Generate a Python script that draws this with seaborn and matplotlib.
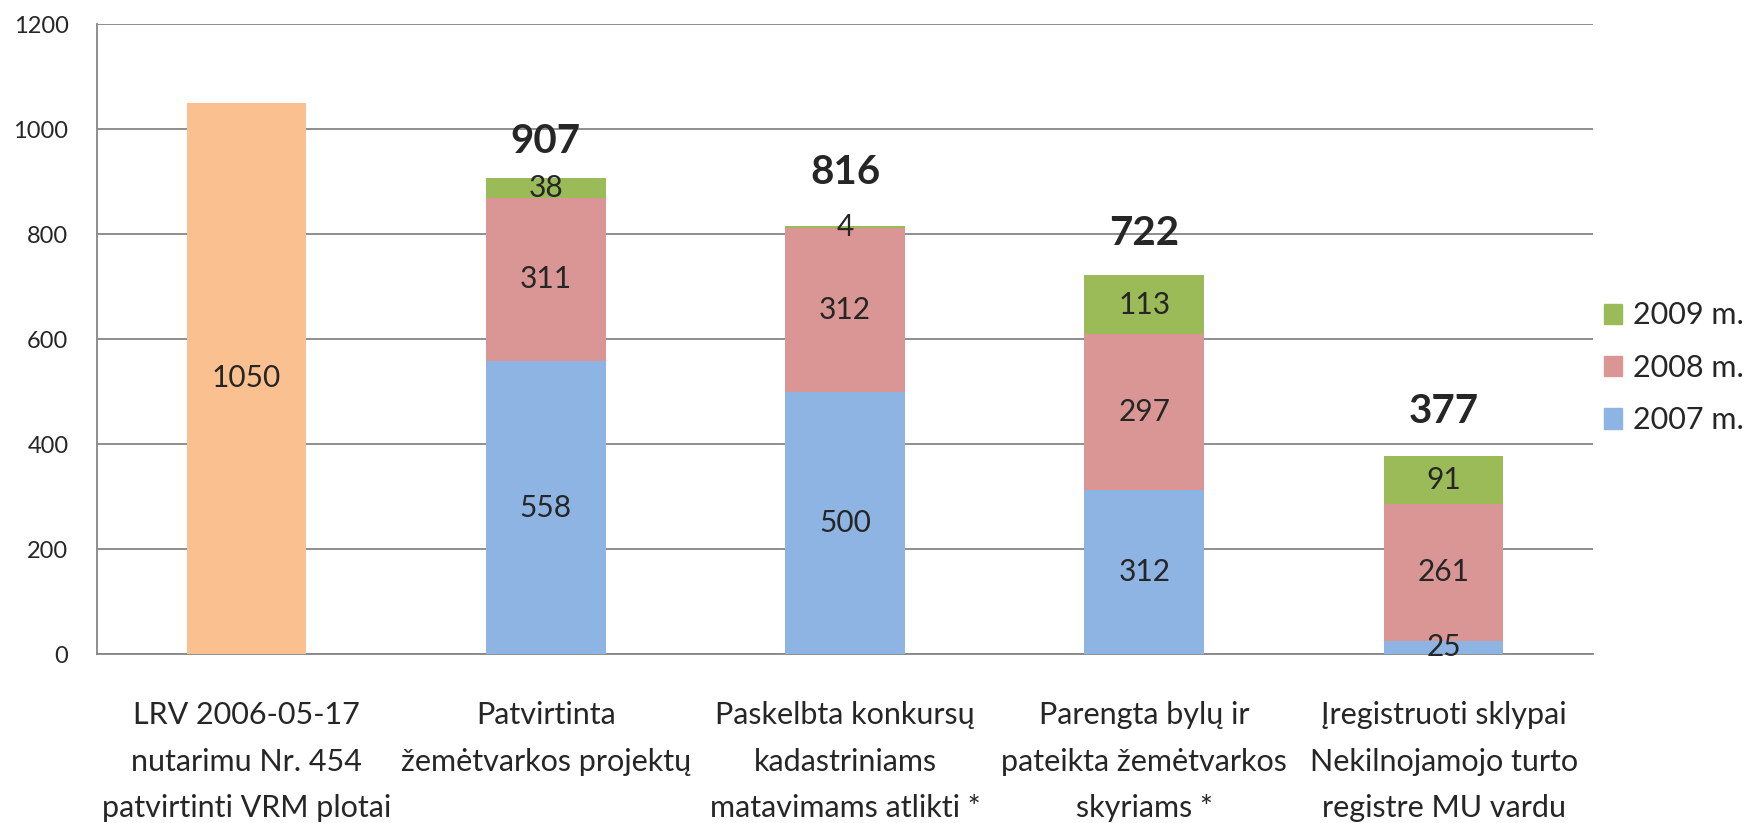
import matplotlib
matplotlib.use("Agg")
import matplotlib.pyplot as plt
from matplotlib.patches import Patch
import numpy as np
import seaborn as sns

# data
categories = [
    "LRV 2006-05-17\nnutarimu Nr. 454\npatvirtinti VRM plotai",
    "Patvirtinta\nžemėtvarkos projektų",
    "Paskelbta konkursų\nkadastriniams\nmatavimams atlikti *",
    "Parengta bylų ir\npateikta žemėtvarkos\nskyriams *",
    "Įregistruoti sklypai\nNekilnojamojo turto\nregistre MU vardu",
]
plan = [1050, 0, 0, 0, 0]
v2007 = [0, 558, 500, 312, 25]
v2008 = [0, 311, 312, 297, 261]
v2009 = [0, 38, 4, 113, 91]
series_names = ["2009 m.", "2008 m.", "2007 m."]

c_plan = "#FAC090"
c2007 = "#8EB4E3"
c2008 = "#D99694"
c2009 = "#9BBB59"
grid_c = "#868686"

sns.set_style("white")
plt.rcParams["font.family"] = ["Lato", "DejaVu Sans"]

a07 = np.array(v2007)
a08 = np.array(v2008)
a09 = np.array(v2009)
cum2 = a07 + a08
cum3 = cum2 + a09

fig = plt.figure(figsize=(17.5, 8.23), dpi=100)
ax = fig.add_axes([0.0554, 0.2053, 0.855, 0.7655])

# stacked bars drawn as overlapping cumulative layers
for vals, col in [(plan, c_plan), (cum3, c2009), (cum2, c2008), (v2007, c2007)]:
    sns.barplot(x=categories, y=vals, order=categories, color=col, width=0.4,
                saturation=1, errorbar=None, linewidth=0, ax=ax, zorder=3)

ax.set_xlim(-0.5, len(categories) - 0.5)
ax.set_ylim(0, 1200)
ax.set_yticks(range(0, 1201, 200))
ax.yaxis.grid(True, color=grid_c, lw=1.3)
ax.set_axisbelow(True)
ax.set_xlabel("")
ax.set_ylabel("")

for s in ["top", "right"]:
    ax.spines[s].set_visible(False)
for s in ["left", "bottom"]:
    ax.spines[s].set_color(grid_c)
    ax.spines[s].set_linewidth(1.3)

ax.tick_params(axis="y", length=6.5, width=1.3, color=grid_c, pad=14, labelsize=17)
ax.set_xticks(range(len(categories)))
ax.set_xticklabels(categories, fontsize=22, linespacing=1.8, va="top")
ax.tick_params(axis="x", which="major", length=0, pad=34)
ax.set_xticks(np.arange(-0.5, len(categories)), minor=True)
ax.tick_params(axis="x", which="minor", length=9, width=1.3, color=grid_c)

# segment labels
for i in range(len(categories)):
    if plan[i]:
        ax.text(i, plan[i] / 2, str(plan[i]), ha="center", va="center", fontsize=21.5, zorder=5)
    for bottom, val in [(0, v2007[i]), (a07[i], v2008[i]), (cum2[i], v2009[i])]:
        if val:
            ax.text(i, bottom + val / 2, str(val), ha="center", va="center", fontsize=21.5, zorder=5)

# totals above stacked bars
total_offsets = [0, 26, 38, 30, 32]
for i in range(1, len(categories)):
    ax.annotate(str(cum3[i]), (i, cum3[i]), xytext=(0, total_offsets[i]),
                textcoords="offset points", ha="center", va="center",
                fontsize=29, fontweight="bold", zorder=5)

handles = [Patch(color=c2009), Patch(color=c2008), Patch(color=c2007)]
fig.legend(handles, series_names, loc="center left", bbox_to_anchor=(0.9166, 0.553),
           frameon=False, fontsize=22, handlelength=0.6, handleheight=0.65,
           handletextpad=0.36, labelspacing=0.8, borderpad=0, borderaxespad=0)

fig.savefig("out.png", dpi=100)
